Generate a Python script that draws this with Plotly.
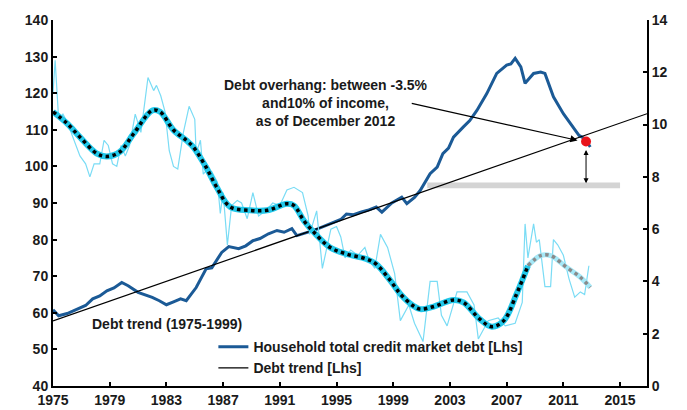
import plotly.graph_objects as go

# Household total credit market debt (% of income, left axis)
debt_years = [1975.0, 1975.4, 1976.0, 1976.8, 1977.3, 1977.8, 1978.3, 1978.8, 1979.3, 1979.85, 1980.3,
              1981.0, 1981.5, 1982.0, 1982.5, 1983.0, 1983.5, 1984.0, 1984.4, 1985.1, 1985.8, 1986.2,
              1986.9, 1987.4, 1988.1, 1988.6, 1989.1, 1989.6, 1990.2, 1990.8, 1991.3, 1991.85, 1992.2,
              1992.8, 1993.4, 1994.1, 1994.8, 1995.3, 1995.7, 1996.2, 1996.7, 1997.2, 1997.8, 1998.2,
              1998.9, 1999.6, 1999.96, 2000.5, 2000.9, 2001.6, 2002.1, 2002.5, 2002.9, 2003.25, 2003.95,
              2004.4, 2004.9, 2005.6, 2006.3, 2007.0, 2007.3, 2007.6, 2008.0, 2008.3, 2008.9, 2009.4,
              2009.7, 2010.3, 2011.0, 2011.6, 2012.1, 2012.5, 2012.9]
debt_vals = [60.8, 59.2, 59.8, 61.1, 62.0, 63.8, 64.6, 66.0, 66.8, 68.3, 67.4,
             65.6, 65.0, 64.2, 63.3, 62.2, 63.0, 63.8, 63.3, 66.9, 72.0, 72.3,
             76.5, 78.1, 77.5, 78.3, 79.7, 80.3, 81.6, 82.5, 82.0, 83.0, 81.1,
             81.7, 82.5, 83.6, 84.7, 85.5, 87.0, 86.8, 87.5, 88.0, 88.9, 87.5,
             90.0, 91.6, 89.8, 91.5, 93.4, 98.0, 99.8, 103.5, 105.0, 108.0, 110.8,
             112.5, 115.3, 119.9, 125.4, 127.7, 128.0, 129.5, 127.2, 122.7, 125.4, 125.8,
             125.4, 119.0, 114.4, 111.2, 108.5, 107.6, 105.3]

# Debt trend (1975-1999), left axis
trend_years = [1975.0, 2016.9]
trend_vals = [57.8, 114.4]

# Raw cyan series (right axis)
raw_years = [1975.0, 1975.15, 1975.4, 1975.7, 1976.0, 1976.4, 1976.9, 1977.3, 1977.6, 1977.9, 1978.3,
             1978.6, 1978.9, 1979.2, 1979.5, 1979.8, 1980.1, 1980.4, 1980.8, 1981.2, 1981.7, 1982.1,
             1982.3, 1982.6, 1982.9, 1983.2, 1983.5, 1983.8, 1984.2, 1984.6, 1985.0, 1985.1, 1985.4,
             1985.6, 1985.9, 1986.2, 1986.6, 1986.8, 1987.0, 1987.3, 1987.6, 1988.0, 1988.3, 1988.7,
             1989.1, 1989.5, 1990.0, 1990.5, 1991.0, 1991.5, 1992.0, 1992.6, 1993.0, 1993.1, 1993.6,
             1994.0, 1994.6, 1995.0, 1995.3, 1995.6, 1996.0, 1996.5, 1997.0, 1997.3, 1997.7, 1998.1,
             1998.6, 1999.1, 1999.5, 2000.1, 2000.5, 2001.1, 2001.6, 2002.1, 2002.4, 2002.8, 2003.5,
             2004.2, 2004.7, 2005.0, 2005.7, 2006.4, 2006.9, 2007.6, 2008.1, 2008.3, 2008.5, 2008.9,
             2009.1, 2009.3, 2009.7, 2010.1, 2010.3, 2010.6, 2011.0, 2011.4, 2011.8, 2012.2, 2012.5,
             2012.8]
raw_vals = [11.2, 12.46, 10.2, 10.4, 10.1, 9.5, 8.8, 8.5, 8.0, 8.5, 8.5,
            9.4, 9.2, 8.5, 8.4, 9.2, 8.8, 9.2, 10.4, 9.7, 11.8, 11.3,
            11.5, 11.1, 10.5, 9.0, 8.4, 8.3, 9.7, 10.7, 10.2, 8.9, 9.4,
            8.1, 8.3, 8.2, 7.8, 6.6, 7.4, 5.4, 6.9, 7.1, 7.0, 6.4,
            7.4, 6.5, 6.7, 7.0, 6.9, 7.5, 7.6, 7.4, 6.5, 5.8, 6.7,
            4.5, 6.0, 6.1, 5.7, 4.9, 5.2, 5.0, 5.3, 4.8, 4.5, 5.8,
            5.3, 4.3, 2.5, 3.1, 2.4, 1.7, 4.0, 4.0, 2.7, 2.3, 3.6,
            3.6, 3.1, 1.8, 2.5, 2.6, 2.3, 2.4, 3.2, 6.2, 4.9, 6.2,
            5.5, 5.6, 3.8, 3.8, 5.6, 5.4, 5.0, 4.1, 3.4, 3.6, 3.5,
            4.6]

# Smoothed cyan series (right axis), history and projection
smooth_years = [1975.0, 1976.0, 1976.9, 1978.1, 1978.8, 1979.7, 1980.7, 1982.0, 1982.55, 1983.5,
                1984.4, 1984.9, 1985.8, 1986.55, 1987.5, 1988.9, 1990.1, 1991.5, 1992.0, 1992.7,
                1993.4, 1994.55, 1995.7, 1997.1, 1997.8, 1998.8, 1999.5, 2000.4, 2000.9, 2001.8,
                2003.25, 2003.95, 2005.1, 2005.95, 2006.8, 2007.7, 2008.5]
smooth_vals = [10.49, 10.04, 9.52, 8.89, 8.78, 8.95, 9.66, 10.54, 10.49, 9.79,
               9.4, 9.14, 8.37, 7.6, 6.85, 6.72, 6.72, 6.97, 6.9, 6.32,
               5.88, 5.3, 5.05, 4.86, 4.66, 4.03, 3.52, 3.07, 2.94, 3.03,
               3.29, 3.2, 2.56, 2.27, 2.5, 3.52, 4.6]
proj_years = [2008.5, 2009.4, 2010.1, 2011.25, 2012.2, 2012.9]
proj_vals = [4.6, 4.99, 4.99, 4.53, 4.16, 3.77]

# Current point (Dec 2012)
dot_year = [2012.6]
dot_val = [106.8]

x_ticks = list(range(1975, 2016, 4))

overhang_text = "Debt overhang: between -3.5%<br>and10% of income,<br>as of December 2012"

FONT = "Liberation Sans, Arial, sans-serif"
DARK_BLUE = "#1b5a96"
CYAN = "#22c8ea"
LIGHT_CYAN = "#7adcf5"
TXT = "#1a1a1a"

fig = go.Figure()

fig.add_trace(go.Scatter(x=raw_years, y=raw_vals, yaxis="y2", mode="lines",
                         line=dict(color=LIGHT_CYAN, width=1.2), showlegend=False))
fig.add_trace(go.Scatter(x=proj_years, y=proj_vals, yaxis="y2", mode="lines",
                         line=dict(color="#a5e8f7", width=5, shape="spline"), showlegend=False))
fig.add_trace(go.Scatter(x=proj_years, y=proj_vals, yaxis="y2", mode="lines",
                         line=dict(color="#8a8a8a", width=3.5, dash="dot", shape="spline"), showlegend=False))
fig.add_trace(go.Scatter(x=smooth_years, y=smooth_vals, yaxis="y2", mode="lines",
                         line=dict(color=CYAN, width=6, shape="spline"), showlegend=False))
fig.add_trace(go.Scatter(x=smooth_years, y=smooth_vals, yaxis="y2", mode="lines",
                         line=dict(color="black", width=3.5, dash="dot", shape="spline"), showlegend=False))

fig.add_trace(go.Scatter(x=debt_years, y=debt_vals, mode="lines",
                         name="<b>Household total credit market debt [Lhs]</b>",
                         line=dict(color=DARK_BLUE, width=3)))
fig.add_trace(go.Scatter(x=trend_years, y=trend_vals, mode="lines",
                         name="<b>Debt trend [Lhs]</b>",
                         line=dict(color="black", width=1.2)))
fig.add_trace(go.Scatter(x=dot_year, y=dot_val, mode="markers",
                         marker=dict(color="#e8141c", size=10), showlegend=False))

# Gray band
fig.add_shape(type="rect", xref="x", yref="y", x0=2001.4, x1=2015.0, y0=94.0, y1=95.6,
              fillcolor="#d4d4d4", line=dict(width=0), layer="below")

# Annotation arrow
fig.add_annotation(x=2012.0, y=107.1, ax=2000.2, ay=117.3, xref="x", yref="y", axref="x", ayref="y",
                   text="", showarrow=True, arrowhead=2, arrowsize=1.2, arrowwidth=1.2, arrowcolor="black")
# Double-headed vertical arrow
fig.add_annotation(x=2012.6, y=95.4, ax=2012.6, ay=104.9, xref="x", yref="y", axref="x", ayref="y",
                   text="", showarrow=True, arrowhead=2, startarrowhead=2, arrowside="end+start",
                   arrowsize=1, arrowwidth=1, arrowcolor="black")

fig.add_annotation(x=1994.27, y=117.3, xref="x", yref="y", showarrow=False,
                   text="<b>" + overhang_text + "</b>",
                   font=dict(family=FONT, size=14, color=TXT), align="center",
                   xanchor="center", yanchor="middle")
fig.add_annotation(x=1977.6, y=57.0, xref="x", yref="y", showarrow=False,
                   text="<b>Debt trend (1975-1999)</b>", font=dict(family=FONT, size=14, color=TXT),
                   xanchor="left", yanchor="middle")

axis_font = dict(family=FONT, size=14, color=TXT, weight="bold")
common = dict(showgrid=False, zeroline=False, showline=True, linecolor="black", linewidth=2,
              ticks="inside", ticklen=4, tickwidth=2, tickcolor="black", tickfont=axis_font,
              automargin=False)
fig.update_layout(
    width=687, height=410,
    margin=dict(l=53, r=40, t=20, b=24, autoexpand=False),
    paper_bgcolor="white", plot_bgcolor="white",
    font=dict(family=FONT, size=14, color=TXT),
    xaxis=dict(range=[1975, 2016.9], tickvals=x_ticks, ticktext=[str(t) for t in x_ticks], **common),
    yaxis=dict(range=[40, 140], dtick=10, **common),
    yaxis2=dict(range=[0, 14], dtick=2, overlaying="y", side="right", **common),
    legend=dict(x=0.27, y=0.15, xanchor="left", yanchor="top", bgcolor="rgba(0,0,0,0)",
                font=dict(family=FONT, size=14, color=TXT), itemwidth=30, tracegroupgap=0),
    showlegend=True,
)

fig.write_html("out.html", config={"displayModeBar": False},
               post_script="document.body.style.margin='0px';")
